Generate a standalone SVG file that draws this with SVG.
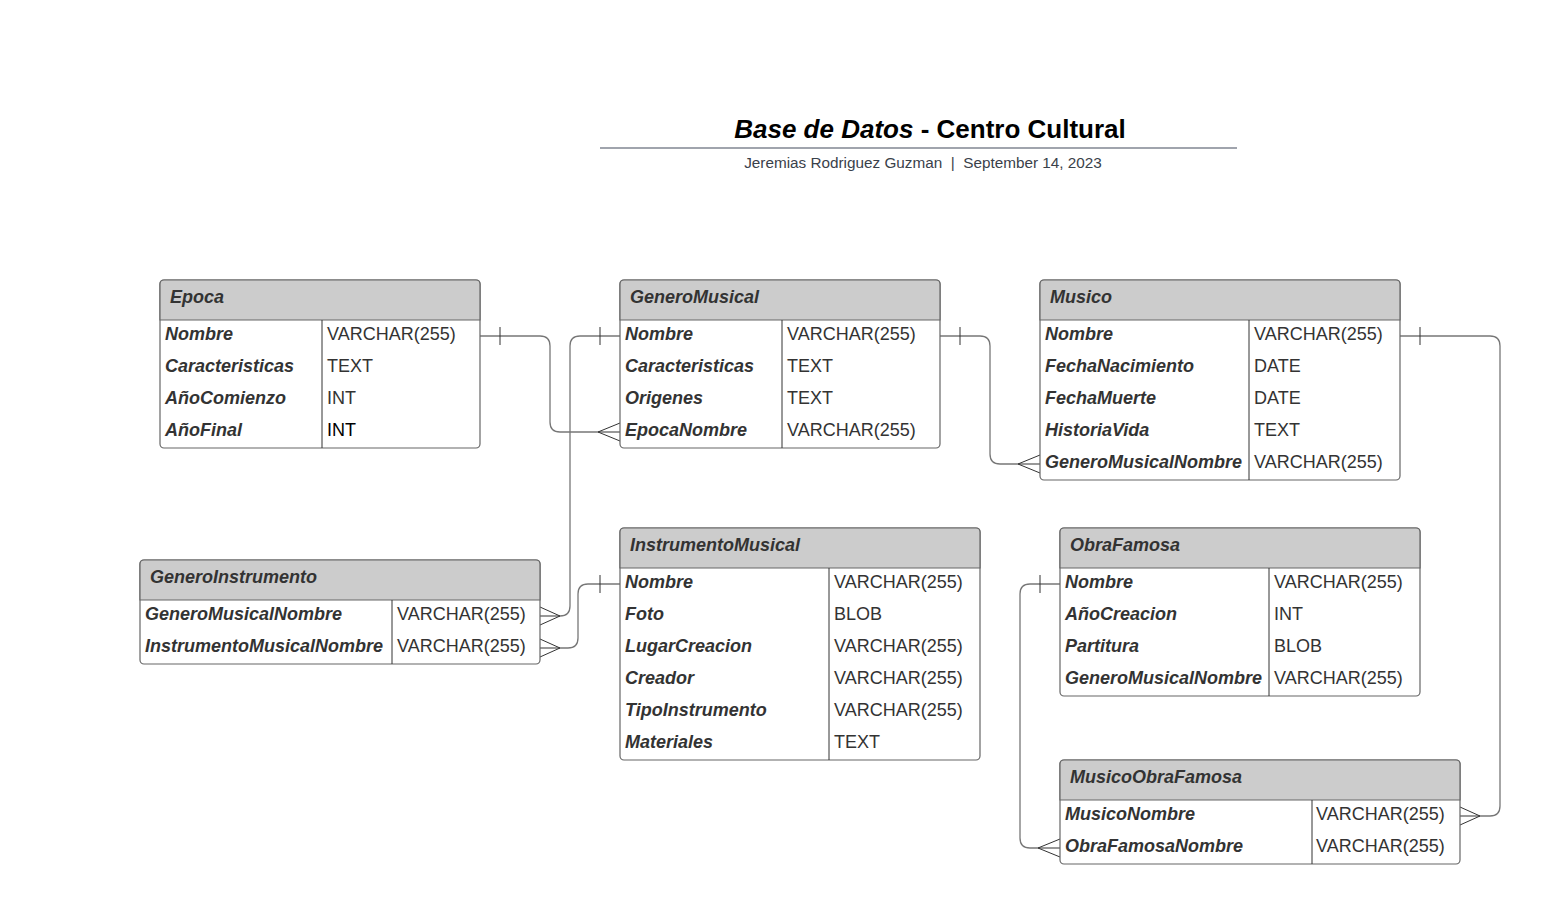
<svg xmlns="http://www.w3.org/2000/svg" width="1541" height="904" viewBox="0 0 1541 904">
<style>
.box{fill:#ffffff;stroke:#666;stroke-width:1.2}
.hdr{fill:#cccccc;stroke:#666;stroke-width:1.2}
.div{stroke:#333;stroke-width:1}
.ht{font-family:"Liberation Sans",Arial,sans-serif;font-size:18px;font-weight:bold;font-style:italic;fill:#333}
.fn{font-family:"Liberation Sans",Arial,sans-serif;font-size:18px;font-weight:bold;font-style:italic;fill:#333}
.ft{font-family:"Liberation Sans",Arial,sans-serif;font-size:18px;fill:#333}
.con{fill:none;stroke:#777;stroke-width:1.3}
.mk{fill:none;stroke:#333;stroke-width:1}
</style>
<rect width="1541" height="904" fill="#ffffff"/>
<g id="title">
<text x="930" y="138" text-anchor="middle" font-family="Liberation Sans,Arial,sans-serif" font-size="26" font-weight="bold" fill="#000"><tspan font-style="italic">Base de Datos</tspan> - Centro Cultural</text>
<line x1="600" y1="148" x2="1237" y2="148" stroke="#a0a4ad" stroke-width="2"/>
<text x="923" y="168" text-anchor="middle" font-family="Liberation Sans,Arial,sans-serif" font-size="15.3" fill="#3a414a" xml:space="preserve" style="white-space:pre">Jeremias Rodriguez Guzman  |  September 14, 2023</text>
</g>
<g id="connectors">
<path class="con" d="M480,336 H540 Q550,336 550,346 V422 Q550,432 560,432 H620"/>
<path class="mk" d="M500,327 V345 M598,432 L620,423 M598,432 L620,441"/>
<path class="con" d="M620,336 H580 Q570,336 570,346 V606 Q570,616 560,616 H540"/>
<path class="mk" d="M600,327 V345 M560,616 L540,607 M560,616 L540,625"/>
<path class="con" d="M620,584 H588 Q578,584 578,594 V638 Q578,648 568,648 H540"/>
<path class="mk" d="M600,575 V593 M560,648 L540,639 M560,648 L540,657"/>
<path class="con" d="M940,336 H980 Q990,336 990,346 V454 Q990,464 1000,464 H1040"/>
<path class="mk" d="M960,327 V345 M1018,464 L1040,455 M1018,464 L1040,473"/>
<path class="con" d="M1400,336 H1490 Q1500,336 1500,346 V806 Q1500,816 1490,816 H1460"/>
<path class="mk" d="M1420,327 V345 M1480,816 L1460,807 M1480,816 L1460,825"/>
<path class="con" d="M1060,584 H1030 Q1020,584 1020,594 V838 Q1020,848 1030,848 H1060"/>
<path class="mk" d="M1040,575 V593 M1038,848 L1060,839 M1038,848 L1060,857"/>
</g>
<g id="Epoca">
<rect class="box" x="160" y="280" width="320" height="168" rx="4"/>
<path class="hdr" d="M164,280 H476 Q480,280 480,284 V320 H160 V284 Q160,280 164,280 Z"/>
<line class="div" x1="322" y1="320" x2="322" y2="448"/>
<text class="ht" x="170" y="303">Epoca</text>
<text class="fn" x="165" y="340">Nombre</text><text class="ft" x="327" y="340">VARCHAR(255)</text>
<text class="fn" x="165" y="372">Caracteristicas</text><text class="ft" x="327" y="372">TEXT</text>
<text class="fn" x="165" y="404">AñoComienzo</text><text class="ft" x="327" y="404">INT</text>
<text class="fn" x="165" y="436">AñoFinal</text><text class="ft" x="327" y="436" style="fill:#000">INT</text>
</g>
<g id="GeneroMusical">
<rect class="box" x="620" y="280" width="320" height="168" rx="4"/>
<path class="hdr" d="M624,280 H936 Q940,280 940,284 V320 H620 V284 Q620,280 624,280 Z"/>
<line class="div" x1="782" y1="320" x2="782" y2="448"/>
<text class="ht" x="630" y="303">GeneroMusical</text>
<text class="fn" x="625" y="340">Nombre</text><text class="ft" x="787" y="340">VARCHAR(255)</text>
<text class="fn" x="625" y="372">Caracteristicas</text><text class="ft" x="787" y="372">TEXT</text>
<text class="fn" x="625" y="404">Origenes</text><text class="ft" x="787" y="404">TEXT</text>
<text class="fn" x="625" y="436">EpocaNombre</text><text class="ft" x="787" y="436">VARCHAR(255)</text>
</g>
<g id="Musico">
<rect class="box" x="1040" y="280" width="360" height="200" rx="4"/>
<path class="hdr" d="M1044,280 H1396 Q1400,280 1400,284 V320 H1040 V284 Q1040,280 1044,280 Z"/>
<line class="div" x1="1249" y1="320" x2="1249" y2="480"/>
<text class="ht" x="1050" y="303">Musico</text>
<text class="fn" x="1045" y="340">Nombre</text><text class="ft" x="1254" y="340">VARCHAR(255)</text>
<text class="fn" x="1045" y="372">FechaNacimiento</text><text class="ft" x="1254" y="372">DATE</text>
<text class="fn" x="1045" y="404">FechaMuerte</text><text class="ft" x="1254" y="404">DATE</text>
<text class="fn" x="1045" y="436">HistoriaVida</text><text class="ft" x="1254" y="436">TEXT</text>
<text class="fn" x="1045" y="468">GeneroMusicalNombre</text><text class="ft" x="1254" y="468">VARCHAR(255)</text>
</g>
<g id="GeneroInstrumento">
<rect class="box" x="140" y="560" width="400" height="104" rx="4"/>
<path class="hdr" d="M144,560 H536 Q540,560 540,564 V600 H140 V564 Q140,560 144,560 Z"/>
<line class="div" x1="392" y1="600" x2="392" y2="664"/>
<text class="ht" x="150" y="583">GeneroInstrumento</text>
<text class="fn" x="145" y="620">GeneroMusicalNombre</text><text class="ft" x="397" y="620">VARCHAR(255)</text>
<text class="fn" x="145" y="652">InstrumentoMusicalNombre</text><text class="ft" x="397" y="652">VARCHAR(255)</text>
</g>
<g id="InstrumentoMusical">
<rect class="box" x="620" y="528" width="360" height="232" rx="4"/>
<path class="hdr" d="M624,528 H976 Q980,528 980,532 V568 H620 V532 Q620,528 624,528 Z"/>
<line class="div" x1="829" y1="568" x2="829" y2="760"/>
<text class="ht" x="630" y="551">InstrumentoMusical</text>
<text class="fn" x="625" y="588">Nombre</text><text class="ft" x="834" y="588">VARCHAR(255)</text>
<text class="fn" x="625" y="620">Foto</text><text class="ft" x="834" y="620">BLOB</text>
<text class="fn" x="625" y="652">LugarCreacion</text><text class="ft" x="834" y="652">VARCHAR(255)</text>
<text class="fn" x="625" y="684">Creador</text><text class="ft" x="834" y="684">VARCHAR(255)</text>
<text class="fn" x="625" y="716">TipoInstrumento</text><text class="ft" x="834" y="716">VARCHAR(255)</text>
<text class="fn" x="625" y="748">Materiales</text><text class="ft" x="834" y="748">TEXT</text>
</g>
<g id="ObraFamosa">
<rect class="box" x="1060" y="528" width="360" height="168" rx="4"/>
<path class="hdr" d="M1064,528 H1416 Q1420,528 1420,532 V568 H1060 V532 Q1060,528 1064,528 Z"/>
<line class="div" x1="1269" y1="568" x2="1269" y2="696"/>
<text class="ht" x="1070" y="551">ObraFamosa</text>
<text class="fn" x="1065" y="588">Nombre</text><text class="ft" x="1274" y="588">VARCHAR(255)</text>
<text class="fn" x="1065" y="620">AñoCreacion</text><text class="ft" x="1274" y="620">INT</text>
<text class="fn" x="1065" y="652">Partitura</text><text class="ft" x="1274" y="652">BLOB</text>
<text class="fn" x="1065" y="684">GeneroMusicalNombre</text><text class="ft" x="1274" y="684">VARCHAR(255)</text>
</g>
<g id="MusicoObraFamosa">
<rect class="box" x="1060" y="760" width="400" height="104" rx="4"/>
<path class="hdr" d="M1064,760 H1456 Q1460,760 1460,764 V800 H1060 V764 Q1060,760 1064,760 Z"/>
<line class="div" x1="1312" y1="800" x2="1312" y2="864"/>
<text class="ht" x="1070" y="783">MusicoObraFamosa</text>
<text class="fn" x="1065" y="820">MusicoNombre</text><text class="ft" x="1316" y="820">VARCHAR(255)</text>
<text class="fn" x="1065" y="852">ObraFamosaNombre</text><text class="ft" x="1316" y="852">VARCHAR(255)</text>
</g>
</svg>
